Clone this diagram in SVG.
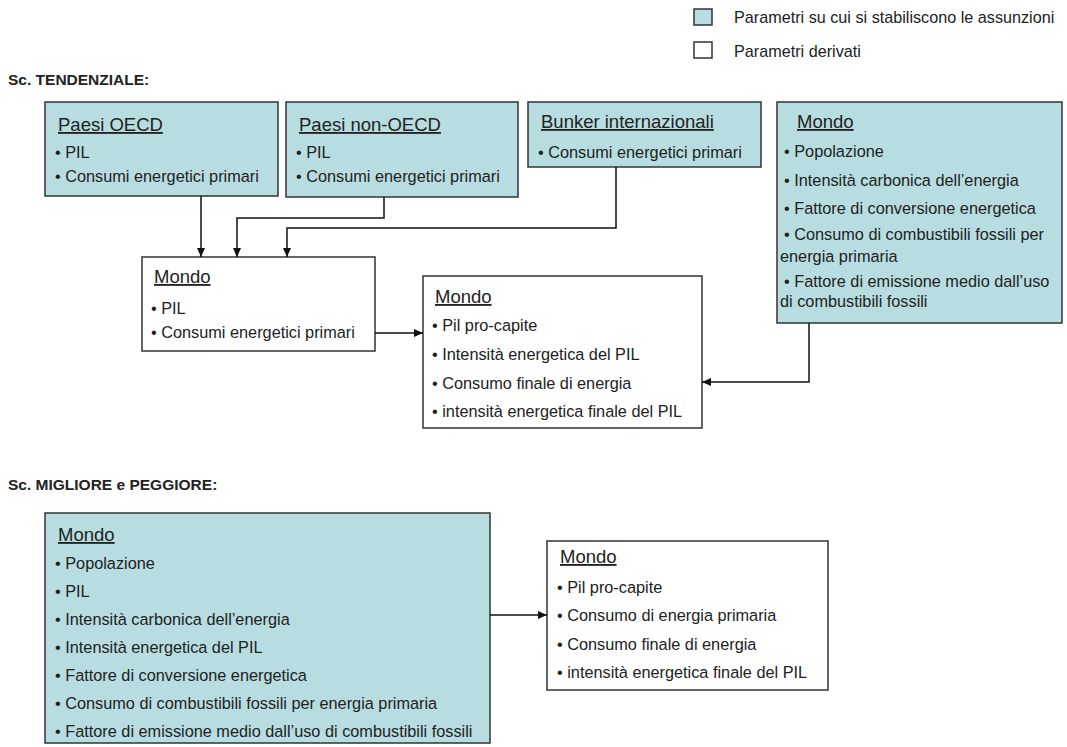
<svg xmlns="http://www.w3.org/2000/svg" width="1067" height="747" viewBox="0 0 1067 747">
  <style>
    text { font-family: "Liberation Sans", Arial, sans-serif; fill: #222; }
    .t { font-size: 18.5px; text-decoration: underline; }
    .b { font-size: 16.3px; }
    .lg { font-size: 16.2px; }
    .h { font-size: 15.5px; font-weight: bold; }
    .in { fill: #b7dde1; stroke: #333; stroke-width: 1.5; }
    .out { fill: #ffffff; stroke: #333; stroke-width: 1.5; }
    .c { fill: none; stroke: #111; stroke-width: 1.5; marker-end: url(#ah); }
  </style>
  <defs>
    <marker id="ah" markerUnits="userSpaceOnUse" markerWidth="10" markerHeight="10" refX="9" refY="5" orient="auto">
      <path d="M0,1 L9,5 L0,9 Z" fill="#111"/>
    </marker>
  </defs>

  <!-- legend -->
  <g id="legend">
    <rect x="694" y="9" width="18" height="16" class="in"/>
    <text x="734" y="23" class="lg">Parametri su cui si stabiliscono le assunzioni</text>
    <rect x="694" y="42" width="18" height="16" class="out"/>
    <text x="734" y="57" class="lg">Parametri derivati</text>
  </g>

  <text x="8" y="85" class="h">Sc. TENDENZIALE:</text>
  <text x="8" y="490" class="h">Sc. MIGLIORE e PEGGIORE:</text>

  <g id="oecd">
    <rect x="45" y="102" width="233" height="94" class="in"/>
    <text x="58" y="131" class="t">Paesi OECD</text>
    <text x="55" y="158" class="b">• PIL</text>
    <text x="55" y="182" class="b">• Consumi energetici primari</text>
  </g>

  <g id="non-oecd">
    <rect x="286" y="102" width="232" height="95" class="in"/>
    <text x="299" y="131" class="t">Paesi non-OECD</text>
    <text x="296" y="158" class="b">• PIL</text>
    <text x="296" y="182" class="b">• Consumi energetici primari</text>
  </g>

  <g id="bunker">
    <rect x="528" y="102" width="233" height="65" class="in"/>
    <text x="541" y="128" class="t">Bunker internazionali</text>
    <text x="538" y="158" class="b">• Consumi energetici primari</text>
  </g>

  <g id="mondo-assunzioni">
    <rect x="777" y="102" width="285" height="221" class="in"/>
    <text x="797" y="128" class="t">Mondo</text>
    <text x="784" y="157" class="b">• Popolazione</text>
    <text x="784" y="186" class="b">• Intensità carbonica dell’energia</text>
    <text x="784" y="214" class="b">• Fattore di conversione energetica</text>
    <text x="784" y="240" class="b">• Consumo di combustibili fossili per</text>
    <text x="780" y="262" class="b">energia primaria</text>
    <text x="784" y="287" class="b">• Fattore di emissione medio dall’uso</text>
    <text x="780" y="307" class="b">di combustibili fossili</text>
  </g>

  <g id="mondo-aggregato">
    <rect x="142" y="257" width="233" height="94" class="out"/>
    <text x="154" y="283" class="t">Mondo</text>
    <text x="151" y="314" class="b">• PIL</text>
    <text x="151" y="338" class="b">• Consumi energetici primari</text>
  </g>

  <g id="mondo-derivati">
    <rect x="423" y="276" width="279" height="152" class="out"/>
    <text x="435" y="303" class="t">Mondo</text>
    <text x="432" y="331" class="b">• Pil pro-capite</text>
    <text x="432" y="360" class="b">• Intensità energetica del PIL</text>
    <text x="432" y="389" class="b">• Consumo finale di energia</text>
    <text x="432" y="417" class="b">• intensità energetica finale del PIL</text>
  </g>

  <g id="mondo-scenari">
    <rect x="45" y="513" width="445" height="230" class="in"/>
    <text x="58" y="541" class="t">Mondo</text>
    <text x="55" y="569" class="b">• Popolazione</text>
    <text x="55" y="597" class="b">• PIL</text>
    <text x="55" y="625" class="b">• Intensità carbonica dell’energia</text>
    <text x="55" y="653" class="b">• Intensità energetica del PIL</text>
    <text x="55" y="681" class="b">• Fattore di conversione energetica</text>
    <text x="55" y="709" class="b">• Consumo di combustibili fossili per energia primaria</text>
    <text x="55" y="737" class="b">• Fattore di emissione medio dall’uso di combustibili fossili</text>
  </g>

  <g id="mondo-scenari-derivati">
    <rect x="547" y="541" width="281" height="149" class="out"/>
    <text x="560" y="563" class="t">Mondo</text>
    <text x="557" y="593" class="b">• Pil pro-capite</text>
    <text x="557" y="621" class="b">• Consumo di energia primaria</text>
    <text x="557" y="650" class="b">• Consumo finale di energia</text>
    <text x="557" y="678" class="b">• intensità energetica finale del PIL</text>
  </g>

  <g id="connectors">
    <path d="M201,196 V257" class="c"/>
    <path d="M384,197 V218 H237 V257" class="c"/>
    <path d="M616,167 V228 H287 V257" class="c"/>
    <path d="M375,333 H423" class="c"/>
    <path d="M809,323 V382 H702" class="c"/>
    <path d="M490,615 H547" class="c"/>
  </g>
</svg>
